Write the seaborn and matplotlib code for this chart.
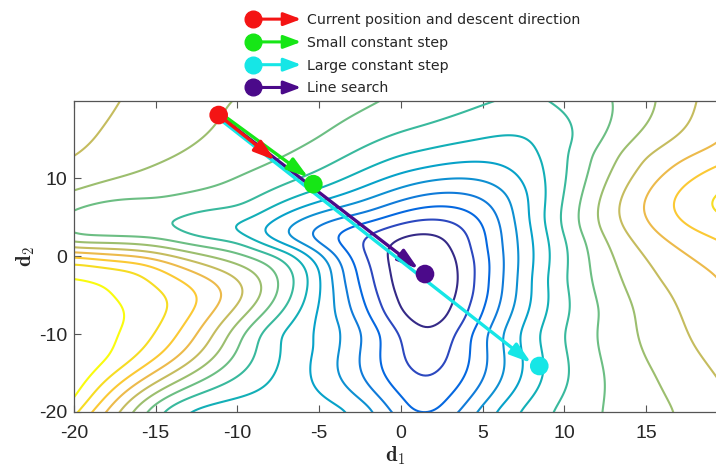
import numpy as np
import pandas as pd
import matplotlib
matplotlib.use("Agg")
import matplotlib.pyplot as plt
import seaborn as sns
from matplotlib.colors import LinearSegmentedColormap, Normalize
from matplotlib.lines import Line2D
from matplotlib.patches import FancyArrowPatch
from matplotlib.legend_handler import HandlerBase
from matplotlib.transforms import offset_copy

# ---------------- data ----------------
# contour sample points (d1, d2) for each contour level
lvl1 = [(-0.9, 1.0), (-0.6, -3.0), (-0.2, -6.5), (0.55, -8.2), (1.65, -10.5), (2.8, -8.2),
        (3.4, -5.5), (3.6, -3.0), (3.4, 0.0), (2.7, 2.4), (1.5, 3.0), (0.3, 2.7)]
lvl2 = [(-2.4, 1.5), (-1.8, -2.0), (-1.2, -6.0), (0.0, -10.5), (1.65, -16.0), (3.2, -10.5),
        (4.2, -6.0), (4.5, -3.0), (4.3, 0.5), (3.8, 3.6), (1.5, 4.7), (-0.6, 3.8)]
lvl3 = [(-4.0, 1.7), (-2.9, -1.0), (-2.5, -4.0), (-1.2, -10.0), (0.65, -20.0), (2.1, -20.0),
        (4.3, -10.0), (5.3, -3.0), (5.2, 1.5), (4.8, 4.8), (1.5, 6.3), (-1.5, 4.6)]
lvl4 = [(-5.5, 1.9), (-4.0, 0.2), (-3.5, -3.0), (-2.4, -10.0), (-0.57, -20.0), (3.5, -20.0),
        (5.3, -10.0), (6.3, -3.0), (6.2, 2.0), (5.6, 6.3), (1.5, 7.9), (-2.0, 5.6)]
lvl5 = [(-7.0, 2.3), (-5.0, 0.5), (-4.3, -3.0), (-3.6, -9.0), (-1.6, -20.0), (4.6, -20.0),
        (6.2, -10.0), (7.1, -3.0), (7.1, 2.5), (6.5, 8.0), (1.5, 9.6), (-2.5, 7.0)]
lvl6 = [(-8.8, 2.7), (-6.2, 1.0), (-5.0, -1.5), (-4.9, -3.0), (-5.3, -8.0), (-5.15, -11.6),
        (-2.8, -20.0), (5.75, -20.0), (7.3, -10.0), (8.0, -3.0), (8.0, 3.0), (7.3, 10.0),
        (1.5, 11.3), (-3.0, 8.3)]
lvl7 = [(-11.5, 3.6), (-9.0, 2.2), (-6.5, 0.0), (-5.6, -3.3), (-7.5, -10.0), (-13.2, -20.0),
        (7.2, -20.0), (8.4, -10.0), (8.9, -3.0), (8.7, 5.0), (8.7, 12.0), (7.7, 15.5),
        (4.5, 14.8), (1.5, 13.6), (0.0, 13.0), (-5.0, 8.6), (-9.0, 4.8)]
lvl8 = [(-16.8, 3.8), (-13.0, 2.6), (-9.8, 1.9), (-7.5, 0.0), (-6.6, -3.8), (-8.6, -10.0),
        (-14.6, -20.0), (9.3, -20.0), (10.3, -5.9), (10.1, -3.0), (9.8, 3.5), (10.6, 15.1),
        (9.1, 19.4), (6.2, 19.9), (4.0, 18.5), (1.5, 16.8), (0.0, 16.0), (-5.0, 11.0),
        (-9.8, 6.2), (-13.5, 4.6)]
lvl9 = [(-20.0, 2.5), (-14.0, 1.9), (-9.5, 0.0), (-7.5, -4.2), (-9.8, -10.5), (-15.6, -20.0),
        (-20.0, 5.8), (-15.0, 7.2), (-9.8, 10.4), (-5.0, 15.2), (-1.5, 19.6),
        (13.0, 19.9), (11.6, 13.0), (11.05, 7.8), (11.3, 2.0), (11.7, -3.0), (12.17, -7.1),
        (12.2, -13.0), (12.3, -20.0)]
lvl10 = [(-20.0, 1.7), (-14.0, 1.0), (-10.3, -0.8), (-8.5, -4.5), (-10.8, -11.2), (-16.4, -20.0),
         (-20.0, 8.2), (-15.0, 11.8), (-11.1, 17.7), (-10.5, 19.9),
         (15.6, 19.9), (13.2, 12.0), (12.17, 3.5), (13.5, -3.0), (14.4, -9.3), (15.5, -15.0),
         (16.8, -20.0)]
lvl11 = [(-20.0, 1.0), (-14.5, 0.2), (-11.3, -1.6), (-9.6, -4.8), (-11.9, -11.5), (-17.2, -20.0),
         (-20.0, 12.7), (-18.3, 16.5), (-17.2, 19.9),
         (18.1, 19.9), (14.8, 12.5), (13.3, 5.7), (15.8, -3.0), (17.9, -11.4), (19.3, -15.5)]
lvl12 = [(-20.0, 0.5), (-15.0, -0.4), (-12.5, -2.2), (-10.9, -5.2), (-13.2, -12.0), (-18.0, -20.0),
         (19.3, 14.2), (16.3, 10.8), (14.8, 6.5), (16.3, 2.0), (19.3, -2.4)]
lvl13 = [(-20.0, 0.0), (-15.5, -1.0), (-13.8, -2.8), (-12.4, -5.6), (-14.6, -12.5), (-19.0, -20.0),
         (19.3, 11.6), (17.5, 9.4), (16.65, 6.5), (17.6, 3.8), (19.3, 2.3)]
lvl14 = [(-20.0, -0.7), (-16.5, -1.8), (-15.3, -3.6), (-14.2, -6.5), (-16.3, -13.0), (-19.9, -20.0),
         (19.1, 6.5)]
lvl15 = [(-20.0, -3.1), (-17.8, -5.2), (-16.8, -8.2), (-17.8, -13.0), (-20.0, -18.5)]
contour_levels = [1, 2, 3, 4, 5, 6, 7, 8, 9, 10, 11, 12, 13, 14, 15]

# extra surface values (d1, d2, value)
extra_pts = [(1.5, -3.5, 0.0), (1.5, -7.5, 0.4), (0.6, 0.6, 0.45), (2.6, -1.0, 0.4),
             (1.6, -13.2, 1.5), (-20.0, 4.2, 8.6), (1.4, -20.0, 2.6), (-8.0, -20.0, 6.5),
             (-6.8, -15.0, 6.6), (-20.0, 19.9, 11.5), (19.3, 19.9, 11.5), (19.3, -20.0, 10.7),
             (-20.0, -20.0, 14.6), (19.3, 6.5, 14.25), (-20.0, -10.0, 15.6), (7.6, 19.9, 7.7)]

# iterates
point_d1 = [-11.15, -5.36, 8.46, 1.47]
point_d2 = [18.1, 9.23, -14.1, -2.3]
point_method = ["Current position and descent direction", "Small constant step",
                "Large constant step", "Line search"]
direction_end = (-7.7, 12.3)
method_colors = ["#f41414", "#16e616", "#16e6e6", "#4b0a8a"]

# ---------------- build the surface (smoothing thin-plate spline through the readings) ----
all_lv = [lvl1, lvl2, lvl3, lvl4, lvl5, lvl6, lvl7, lvl8, lvl9, lvl10, lvl11, lvl12, lvl13, lvl14, lvl15]
rows = []
for lev, pts in zip(contour_levels, all_lv):
    for (a, b) in pts:
        rows.append((a, b, float(lev)))
rows += [tuple(p) for p in extra_pts]
tab = pd.DataFrame(rows, columns=["d1", "d2", "f"]).drop_duplicates(subset=["d1", "d2"])
px, py, pv = tab.d1.to_numpy(), tab.d2.to_numpy(), tab.f.to_numpy()


def U(r):
    with np.errstate(divide="ignore", invalid="ignore"):
        out = r * r * np.log(r)
    return np.where(r > 0, out, 0.0)


n = len(px)
R = np.hypot(px[:, None] - px[None, :], py[:, None] - py[None, :])
K = U(R) + 3.0 * np.eye(n)
P = np.column_stack([np.ones(n), px, py])
A = np.zeros((n + 3, n + 3))
A[:n, :n] = K
A[:n, n:] = P
A[n:, :n] = P.T
rhs = np.concatenate([pv, np.zeros(3)])
sol = np.linalg.solve(A, rhs)
w, c = sol[:n], sol[n:]

gx = np.linspace(-21, 20.3, 280)
gy = np.linspace(-21, 20.9, 280)
GX, GY = np.meshgrid(gx, gy)
Z = np.empty_like(GX)
for i in range(GX.shape[0]):
    r = np.hypot(GX[i][:, None] - px[None, :], GY[i][:, None] - py[None, :])
    Z[i] = U(r) @ w + c[0] + c[1] * GX[i] + c[2] * GY[i]

# gaussian smoothing of the gridded surface
kx = np.arange(-10, 11)
kern = np.exp(-0.5 * (kx / 3.5) ** 2)
kern /= kern.sum()
Zp = np.pad(Z, 10, mode="edge")
Zs = np.apply_along_axis(lambda v: np.convolve(v, kern, mode="same"), 1, Zp)
Zs = np.apply_along_axis(lambda v: np.convolve(v, kern, mode="same"), 0, Zs)
Z = Zs[10:-10, 10:-10]

# MATLAB parula approximation
parula_cols = [(0.2081, 0.1663, 0.5292), (0.1959, 0.2645, 0.7279), (0.0117, 0.3875, 0.8820),
               (0.0498, 0.4586, 0.8641), (0.0793, 0.5200, 0.8312), (0.0343, 0.5966, 0.8199),
               (0.0228, 0.6535, 0.7768), (0.0843, 0.6928, 0.7062), (0.2178, 0.7250, 0.6193),
               (0.3953, 0.7459, 0.5244), (0.5709, 0.7485, 0.4494), (0.7184, 0.7411, 0.3905),
               (0.8507, 0.7299, 0.3360), (0.9739, 0.7314, 0.2666), (0.9880, 0.8066, 0.1794),
               (0.9626, 0.8705, 0.1309), (0.9763, 0.9831, 0.0538)]
parula = LinearSegmentedColormap.from_list("parula", parula_cols)

# ---------------- figure ----------------
sns.set_theme(style="white")
plt.rcParams["font.family"] = ["Liberation Sans", "DejaVu Sans"]
plt.rcParams["mathtext.fontset"] = "cm"
plt.rcParams["axes.unicode_minus"] = False

fig = plt.figure(figsize=(7.16, 4.67), dpi=100)
ax = fig.add_axes([74 / 716, 55 / 467, 642 / 716, 311 / 467])

ax.contour(GX, GY, Z, levels=contour_levels, cmap=parula, norm=Normalize(1.0, 15.0),
           linewidths=1.5, zorder=2)

# arrows (drawn from the iterate data)
start = (point_d1[0], point_d2[0])
arrow_specs = [
    # (end point, color index, pixel offset, shrink to dot)
    ((point_d1[3], point_d2[3]), 3, (0.0, 0.0), 6.0),
    ((point_d1[2], point_d2[2]), 2, (-1.6, -2.0), 6.0),
    ((point_d1[1], point_d2[1]), 1, (1.6, 2.0), 6.0),
    (direction_end, 0, (0.0, 0.0), 0.0),
]
for k, (end, ci, (ox, oy), shr) in enumerate(arrow_specs):
    tr = offset_copy(ax.transData, fig=fig, x=ox, y=oy, units="dots")
    ax.annotate("", xy=end, xytext=start, xycoords=tr, textcoords=tr,
                arrowprops=dict(arrowstyle="-|>,head_length=0.75,head_width=0.24",
                                mutation_scale=17, lw=2.4, color=method_colors[ci],
                                shrinkA=0, shrinkB=shr),
                zorder=3 + 0.1 * k)

df = pd.DataFrame({"d1": point_d1, "d2": point_d2, "method": point_method})
sns.scatterplot(data=df, x="d1", y="d2", hue="method", palette=dict(zip(point_method, method_colors)),
                s=180, edgecolor="none", linewidth=0, legend=False, zorder=5, ax=ax)

ax.set_xlim(-20, 19.27)
ax.set_ylim(-20, 19.9)
ax.set_xticks([-20, -15, -10, -5, 0, 5, 10, 15])
ax.set_yticks([-20, -10, 0, 10])
ax.tick_params(axis="both", direction="in", length=5, width=0.8, color="#555555",
               labelsize=14, labelcolor="#262626")
ax.tick_params(axis="x", top=True, bottom=True, pad=9)
ax.tick_params(axis="y", left=True, right=False, pad=5)
for s in ["top", "bottom", "left"]:
    ax.spines[s].set_color("#555555")
    ax.spines[s].set_linewidth(0.9)
ax.spines["right"].set_visible(False)
ax.set_xlabel(r"$\mathbf{d}_1$", fontsize=15, labelpad=2, color="#262626")
ax.set_ylabel(r"$\mathbf{d}_2$", fontsize=15, labelpad=1, color="#262626")


class DotArrowHandler(HandlerBase):
    def __init__(self, color, **kw):
        super().__init__(**kw)
        self.color = color

    def create_artists(self, legend, orig_handle, xdescent, ydescent, width, height, fontsize, trans):
        y = height / 2 - ydescent
        x0 = -xdescent + 6
        x1 = -xdescent + width
        arr = FancyArrowPatch((x0, y), (x1, y), arrowstyle="-|>,head_length=0.75,head_width=0.28",
                              mutation_scale=14, lw=2.2, color=self.color, shrinkA=0, shrinkB=0,
                              transform=trans)
        dot = Line2D([x0], [y], marker="o", markersize=12, color=self.color, ls="none",
                     transform=trans)
        return [arr, dot]


handles = [Line2D([], [], color=c) for c in method_colors]
hmap = {h: DotArrowHandler(c) for h, c in zip(handles, method_colors)}
fig.legend(handles, point_method, handler_map=hmap, loc="upper left",
           bbox_to_anchor=(238 / 716, 1 - 6 / 467), frameon=False, borderpad=0,
           handlelength=3.96, handletextpad=0.4, labelspacing=0.62,
           prop={"family": "DejaVu Sans", "size": 10.2})

fig.savefig("out.png", dpi=100)
